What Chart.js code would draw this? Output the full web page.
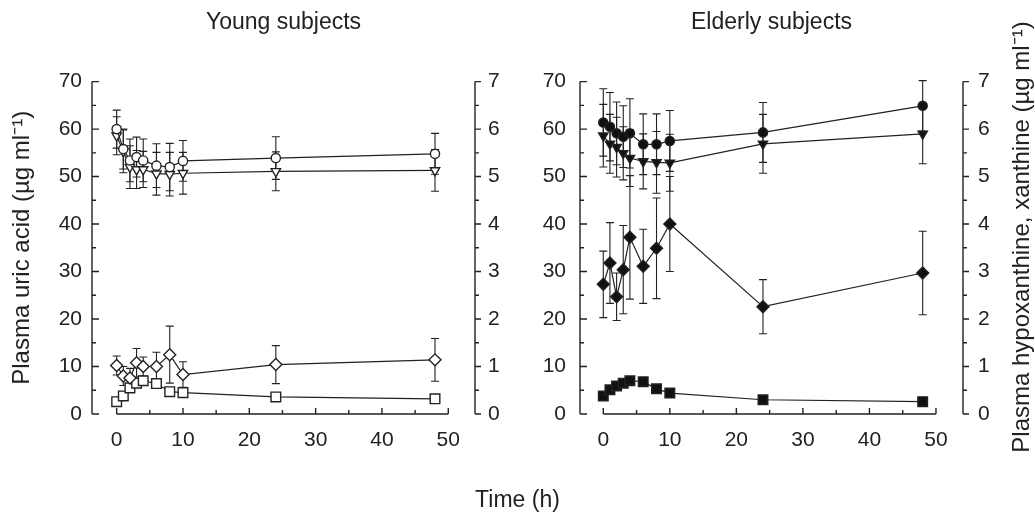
<!DOCTYPE html>
<html>
<head>
<meta charset="utf-8">
<script src="https://cdn.jsdelivr.net/npm/chart.js@4.4.0/dist/chart.umd.min.js"></script>
<style>
  html, body { margin: 0; padding: 0; background: #fff; }
  #wrap { position: relative; width: 1035px; height: 514px; overflow: hidden;
          font-family: "Liberation Sans", Arial, sans-serif; color: #222; }
  #young { position: absolute; left: 0; top: 0; }
  #elderly { position: absolute; left: 517px; top: 0; }
  #xtitle { position: absolute; left: 0; top: 485px; width: 1035px; height: 28px;
            line-height: 28px; text-align: center; font-size: 23px; }
  #y2title { position: absolute; left: 801px; top: 223px; width: 440px; height: 28px;
             line-height: 28px; text-align: center; font-size: 24px; white-space: nowrap;
             transform: rotate(-90deg); }
</style>
</head>
<body>
<div id="wrap">
  <canvas id="young" width="517" height="514"></canvas>
  <canvas id="elderly" width="518" height="514"></canvas>
  <div id="xtitle">Time (h)</div>
  <div id="y2title">Plasma hypoxanthine, xanthine (µg ml⁻¹)</div>
</div>
<script>
// sampling times (h)
const times = [0, 1, 2, 3, 4, 6, 8, 10, 24, 48];
const xTicks = [0, 10, 20, 30, 40, 50];
const uricTicks = [0, 10, 20, 30, 40, 50, 60, 70];
const purineTicks = [0, 1, 2, 3, 4, 5, 6, 7];

// young subjects (circles/triangles: left axis, diamonds/squares: right axis)
const youngCircle = [60.0, 55.8, 53.4, 54.1, 53.4, 52.3, 52.0, 53.3, 53.9, 54.8];
const youngCircleSd = [4.0, 4.2, 4.5, 4.2, 4.5, 4.6, 5.0, 4.3, 4.5, 4.3];
const youngTriangle = [58.6, 55.3, 52.0, 51.5, 51.5, 50.6, 50.5, 50.7, 51.1, 51.3];
const youngTriangleSd = [4.0, 4.5, 4.5, 4.0, 3.8, 4.5, 4.6, 4.4, 4.1, 4.4];
const youngDiamond = [1.02, 0.80, 0.76, 1.08, 1.00, 1.00, 1.25, 0.83, 1.04, 1.14];
const youngDiamondSd = [0.20, 0.20, 0.20, 0.30, 0.20, 0.30, 0.60, 0.27, 0.40, 0.45];
const youngSquare = [0.26, 0.38, 0.55, 0.65, 0.70, 0.64, 0.47, 0.45, 0.36, 0.32];
const youngSquareSd = [0.08, 0.08, 0.08, 0.08, 0.08, 0.08, 0.08, 0.08, 0.08, 0.08];

// elderly subjects
const elderlyCircle = [61.4, 60.5, 59.1, 58.4, 59.1, 56.8, 56.8, 57.5, 59.3, 64.9];
const elderlyCircleSd = [7.1, 7.2, 6.6, 6.5, 7.3, 6.4, 6.4, 6.4, 6.3, 5.3];
const elderlyTriangle = [58.6, 56.9, 56.2, 54.9, 53.9, 53.2, 53.0, 52.9, 56.9, 59.0];
const elderlyTriangleSd = [6.6, 6.2, 6.3, 5.6, 6.0, 5.8, 6.5, 6.0, 6.2, 6.3];
const elderlyDiamond = [2.73, 3.18, 2.47, 3.04, 3.72, 3.11, 3.49, 4.00, 2.26, 2.97];
const elderlyDiamondSd = [0.70, 0.85, 0.50, 0.93, 1.30, 0.78, 1.06, 1.00, 0.57, 0.88];
const elderlySquare = [0.38, 0.51, 0.59, 0.65, 0.70, 0.68, 0.53, 0.44, 0.30, 0.26];
const elderlySquareSd = [0.08, 0.08, 0.08, 0.08, 0.08, 0.08, 0.08, 0.08, 0.08, 0.08];

const INK = "#222";
Chart.defaults.font.family = '"Liberation Sans", Arial, sans-serif';
Chart.defaults.color = INK;

function points(values) {
    return values.map((v, i) => ({x: times[i], y: v}));
}

function series(values, sd, axis, style, filled) {
    return {
        data: points(values),
        sd: sd,
        yAxisID: axis,
        borderColor: INK,
        borderWidth: 1.2,
        pointStyle: style.shape,
        pointRotation: style.rotation || 0,
        pointRadius: style.radius,
        pointBorderWidth: 1.4,
        pointBorderColor: INK,
        pointBackgroundColor: filled ? "#111" : "#fff",
        tension: 0
    };
}

const circle = {shape: "circle", radius: 4.6};
const triangle = {shape: "triangle", rotation: 180, radius: 5.4};
const diamond = {shape: "rectRot", radius: 6};
const square = {shape: "rect", radius: 6.8};

// symmetric error bars, drawn under lines and markers
const errorBars = {
    id: "errorBars",
    beforeDatasetsDraw(chart) {
        const ctx = chart.ctx;
        ctx.save();
        ctx.strokeStyle = INK;
        ctx.lineWidth = 1.1;
        chart.data.datasets.forEach((ds, i) => {
            const meta = chart.getDatasetMeta(i);
            const scale = chart.scales[ds.yAxisID];
            meta.data.forEach((pt, j) => {
                const v = ds.data[j].y;
                const top = scale.getPixelForValue(v + ds.sd[j]);
                const bot = scale.getPixelForValue(v - ds.sd[j]);
                ctx.beginPath();
                ctx.moveTo(pt.x, top); ctx.lineTo(pt.x, bot);
                ctx.moveTo(pt.x - 4, top); ctx.lineTo(pt.x + 4, top);
                ctx.moveTo(pt.x - 4, bot); ctx.lineTo(pt.x + 4, bot);
                ctx.stroke();
            });
        });
        ctx.restore();
    }
};

// axis lines with inward ticks (left, bottom) and outward ticks (right)
const frameAxes = {
    id: "frameAxes",
    afterDraw(chart) {
        const {ctx, chartArea, scales: {x, y, y2}} = chart;
        const yMax = uricTicks[uricTicks.length - 1];
        const y2Max = purineTicks[purineTicks.length - 1];
        const xMax = xTicks[xTicks.length - 1];
        ctx.save();
        ctx.strokeStyle = INK;
        ctx.lineWidth = 1.4;
        ctx.beginPath();
        const lx = chartArea.left;
        ctx.moveTo(lx, y.getPixelForValue(0));
        ctx.lineTo(lx, y.getPixelForValue(yMax));
        for (let v = 0; v <= yMax; v += 5) {
            const py = y.getPixelForValue(v);
            ctx.moveTo(lx, py);
            ctx.lineTo(lx + (v % 10 ? 4 : 7), py);
        }
        const rx = chartArea.right;
        ctx.moveTo(rx, y2.getPixelForValue(0));
        ctx.lineTo(rx, y2.getPixelForValue(y2Max));
        for (let v = 0; v <= y2Max * 2; v += 1) {
            const py = y2.getPixelForValue(v / 2);
            ctx.moveTo(rx, py);
            ctx.lineTo(rx + (v % 2 ? 4 : 6), py);
        }
        const by = y.getPixelForValue(0);
        ctx.moveTo(x.getPixelForValue(0), by);
        ctx.lineTo(x.getPixelForValue(xMax), by);
        for (let t = 0; t <= xMax; t += 5) {
            const px = x.getPixelForValue(t);
            ctx.moveTo(px, by);
            ctx.lineTo(px, by - (t % 10 ? 4 : 6));
        }
        ctx.stroke();
        ctx.restore();
    }
};

function setTicks(list) {
    return scale => { scale.ticks = list.map(v => ({value: v})); };
}

function buildOptions(cfg) {
    return {
        responsive: false,
        animation: false,
        layout: {padding: 0},
        plugins: {
            legend: {display: false},
            tooltip: {enabled: false},
            title: {
                display: true,
                text: cfg.title,
                fullSize: false,
                font: {size: 23, weight: "normal"},
                color: INK,
                padding: {top: 9, bottom: 45}
            }
        },
        scales: {
            x: {
                type: "linear",
                min: cfg.xMin,
                max: cfg.xMax,
                grid: {display: false, drawTicks: false},
                border: {display: false},
                ticks: {font: {size: 21}, padding: 14, maxRotation: 0},
                afterBuildTicks: setTicks(xTicks),
                afterFit: s => { s.height = 100; }
            },
            y: {
                position: "left",
                min: 0,
                max: 70,
                grid: {display: false, drawTicks: false},
                border: {display: false},
                ticks: {font: {size: 21}, padding: cfg.yPad},
                afterBuildTicks: setTicks(uricTicks),
                title: {
                    display: cfg.yTitle !== "",
                    text: cfg.yTitle,
                    font: {size: 24},
                    padding: {top: 8, bottom: 0}
                },
                afterFit: s => { s.width = cfg.yWidth; }
            },
            y2: {
                position: "right",
                min: 0,
                max: 7,
                grid: {display: false, drawTicks: false},
                border: {display: false},
                ticks: {font: {size: 21}, padding: cfg.y2Pad},
                afterBuildTicks: setTicks(purineTicks),
                afterFit: s => { s.width = cfg.y2Width; }
            }
        }
    };
}

new Chart(document.getElementById("young"), {
    type: "line",
    data: {
        datasets: [
            series(youngCircle, youngCircleSd, "y", circle, false),
            series(youngTriangle, youngTriangleSd, "y", triangle, false),
            series(youngDiamond, youngDiamondSd, "y2", diamond, false),
            series(youngSquare, youngSquareSd, "y2", square, false)
        ]
    },
    options: buildOptions({
        title: "Young subjects",
        xMin: -3.72, xMax: 54.03,
        yWidth: 92, y2Width: 42, yPad: 10, y2Pad: 13,
        yTitle: "Plasma uric acid (µg ml⁻¹)"
    }),
    plugins: [errorBars, frameAxes]
});

new Chart(document.getElementById("elderly"), {
    type: "line",
    data: {
        datasets: [
            series(elderlyCircle, elderlyCircleSd, "y", circle, true),
            series(elderlyTriangle, elderlyTriangleSd, "y", triangle, true),
            series(elderlyDiamond, elderlyDiamondSd, "y2", diamond, true),
            series(elderlySquare, elderlySquareSd, "y2", square, true)
        ]
    },
    options: buildOptions({
        title: "Elderly subjects",
        xMin: -3.5, xMax: 54.06,
        yWidth: 63, y2Width: 72, yPad: 14, y2Pad: 15,
        yTitle: ""
    }),
    plugins: [errorBars, frameAxes]
});
</script>
</body>
</html>
